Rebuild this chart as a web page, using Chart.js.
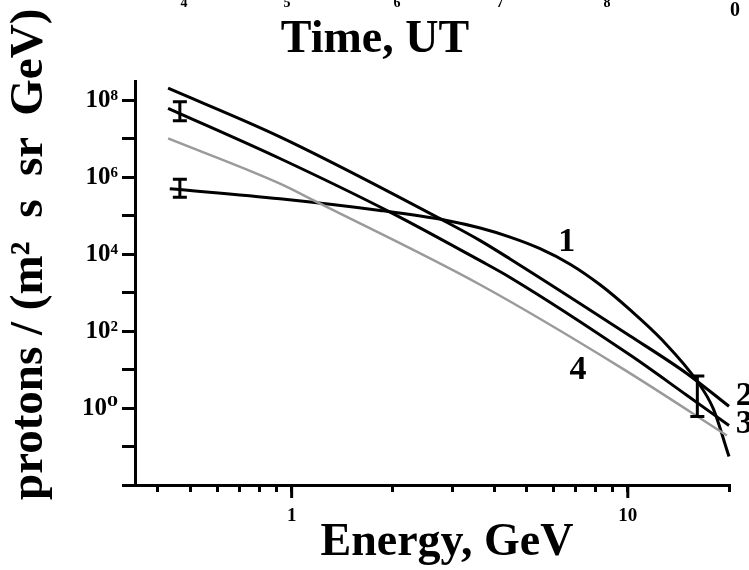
<!DOCTYPE html>
<html><head><meta charset="utf-8">
<script src="https://cdn.jsdelivr.net/npm/chart.js@4.4.1/dist/chart.umd.min.js"></script>
<style>html,body{margin:0;padding:0;background:#fff;overflow:hidden}#wrap{width:749px;height:570px;position:relative}</style>
</head><body><div id="wrap"><canvas id="c" width="749" height="570"></canvas></div>
<script>
const SERIF = "'Liberation Serif','Times New Roman','DejaVu Serif',serif";

// Curve 1
const curve1E = [0.434, 0.923, 1.832, 2.893, 3.639, 4.465, 5.483, 6.734, 8.271, 10.16, 12.74, 16.08, 17.94, 20];
const curve1F = [5.04e5, 2.76e5, 1.37e5, 7.5e4, 4.78e4, 2.78e4, 1.39e4, 5.48e3, 1.60e3, 356, 55.2, 4.98, 0.98, 0.055];
// Curve 2
const curve2E = [0.429, 0.923, 2.893, 3.639, 4.465, 10.16, 15.01, 20];
const curve2F = [2.06e8, 1.12e7, 6.76e4, 2.25e4, 7.5e3, 74.5, 7.82, 1.11];
// Curve 3
const curve3E = [0.429, 0.923, 1.962, 3.639, 4.465, 10.16, 14.98, 20];
const curve3F = [6.18e7, 3.06e6, 1.24e5, 6.76e3, 2.48e3, 23.8, 2.15, 0.353];
// Curve 4 (grey)
const curve4E = [0.429, 0.923, 1.187, 3.639, 9.487, 19.71];
const curve4F = [1.02e7, 6.81e5, 2.28e5, 1.60e3, 11.6, 0.194];

// Error bars
const errE = [0.465, 0.465, 16.1];
const errLow = [2.95e7, 3.0e5, 0.6];
const errHigh = [9.1e7, 8.9e5, 6.8];

// Curve labels
const labelText = ['1', '2', '3', '4'];
const labelE = [6.58, 22.2, 22.2, 7.11];
const labelF = [2.1e4, 2.0, 0.375, 9.6];

// Axes
const xMin = 0.342, xMax = 20;
const yMin = 0.01, yMax = 3.162e8;
const xTickValues = [0.4, 0.5, 0.6, 0.7, 0.8, 0.9, 1, 2, 3, 4, 5, 6, 7, 8, 9, 10, 20];
const xMajorValues = [1, 10];
const xLabelTexts = ['1', '10'];
const yTickExps = [-2, -1, 0, 1, 2, 3, 4, 5, 6, 7, 8];
const yLabelExps = [0, 2, 4, 6, 8];

// Texts of the surrounding figure
const topTickTexts = ['4', '5', '6', '7', '8'];
const topTickX = [184, 287, 397, 500, 607];

const SUP = {'-':'\u207B','0':'\u2070','1':'\u00B9','2':'\u00B2','3':'\u00B3','4':'\u2074','5':'\u2075','6':'\u2076','7':'\u2077','8':'\u2078','9':'\u2079'};
const sup = n => String(n).split('').map(c => SUP[c]).join('');

const pts = (E, F) => E.map((e, i) => ({x: e, y: F[i]}));

const annot = {
  id: 'annot',
  afterDatasetsDraw(chart) {
    const {ctx, scales: {x, y}, chartArea} = chart;
    ctx.save();
    ctx.strokeStyle = '#000';
    ctx.lineWidth = 3;
    ctx.lineCap = 'butt';
    errE.forEach((e, i) => {
      const px = x.getPixelForValue(e);
      const y1 = y.getPixelForValue(errLow[i]);
      const y2 = y.getPixelForValue(errHigh[i]);
      ctx.beginPath();
      ctx.moveTo(px, y1); ctx.lineTo(px, y2);
      ctx.moveTo(px - 7, y1); ctx.lineTo(px + 7, y1);
      ctx.moveTo(px - 7, y2); ctx.lineTo(px + 7, y2);
      ctx.stroke();
    });
    xMajorValues.forEach(v => {
      const px = x.getPixelForValue(v);
      ctx.beginPath();
      ctx.moveTo(px, chartArea.bottom);
      ctx.lineTo(px, chartArea.bottom + 13);
      ctx.stroke();
    });
    ctx.fillStyle = '#000';
    ctx.textBaseline = 'middle';
    ctx.textAlign = 'center';
    ctx.font = 'bold 34px ' + SERIF;
    labelText.forEach((t, i) => {
      ctx.fillText(t, x.getPixelForValue(labelE[i]), y.getPixelForValue(labelF[i]));
    });
    ctx.restore();
  },
  afterDraw(chart) {
    const {ctx} = chart;
    ctx.save();
    ctx.fillStyle = '#000';
    ctx.textAlign = 'center';
    ctx.textBaseline = 'alphabetic';
    ctx.font = 'bold 14px ' + SERIF;
    topTickTexts.forEach((t, i) => ctx.fillText(t, topTickX[i], 7));
    ctx.font = 'bold 20px ' + SERIF;
    ctx.fillText('0', 735, 16);
    ctx.font = 'bold 46px ' + SERIF;
    ctx.fillText('Time, UT', 375, 52);
    ctx.fillText('Energy, GeV', 447, 555);
    ctx.translate(42, 500);
    ctx.rotate(-Math.PI / 2);
    ctx.textAlign = 'left';
    ctx.font = 'bold 47px ' + SERIF;
    ctx.fillText('protons / (m\u00B2  s  sr \u2009GeV)', 0, 0);
    ctx.restore();
  }
};

const lineDs = (E, F, color, w) => ({
  data: pts(E, F), borderColor: color, borderWidth: w, pointRadius: 0,
  fill: false, cubicInterpolationMode: 'monotone', clip: false
});

new Chart(document.getElementById('c'), {
  type: 'line',
  data: {
    datasets: [
      lineDs(curve4E, curve4F, '#9a9a9a', 2.5),
      lineDs(curve3E, curve3F, '#000', 3),
      lineDs(curve2E, curve2F, '#000', 3),
      lineDs(curve1E, curve1F, '#000', 3)
    ]
  },
  options: {
    responsive: false, animation: false, devicePixelRatio: 1,
    parsing: false,
    layout: {padding: {top: 81, right: 20, left: 0, bottom: 0}},
    plugins: {legend: {display: false}, tooltip: {enabled: false}, title: {display: false}},
    scales: {
      x: {
        type: 'logarithmic', min: xMin, max: xMax, bounds: 'data',
        afterBuildTicks: s => { s.ticks = xTickValues.map(v => ({value: v})); s.min = xMin; s.max = xMax; },
        afterFit: s => { s.height = 85; },
        grid: {display: true, drawOnChartArea: false, drawTicks: true, tickLength: 7, tickWidth: 3, tickColor: '#000', color: '#000', lineWidth: 3},
        border: {display: true, color: '#000', width: 3},
        ticks: {
          autoSkip: false, maxRotation: 0, minRotation: 0, color: '#000', padding: 13,
          font: {family: SERIF, weight: 'bold', size: 19},
          callback: v => { const k = xMajorValues.indexOf(v); return k >= 0 ? xLabelTexts[k] : ''; }
        }
      },
      y: {
        type: 'logarithmic', min: yMin, max: yMax, bounds: 'data',
        afterBuildTicks: s => { s.ticks = yTickExps.map(e => ({value: Math.pow(10, e)})); s.min = yMin; s.max = yMax; },
        afterFit: s => { s.width = 135; },
        grid: {display: true, drawOnChartArea: false, drawTicks: true, tickLength: 13, tickWidth: 3, tickColor: '#000', color: '#000', lineWidth: 3},
        border: {display: true, color: '#000', width: 3},
        ticks: {
          autoSkip: false, color: '#000', padding: 4,
          font: {family: SERIF, weight: 'bold', size: 25},
          callback: v => { const e = Math.round(Math.log10(v)); return yLabelExps.includes(e) ? '10' + sup(e) : ''; }
        }
      }
    }
  },
  plugins: [annot]
});
</script></body></html>
